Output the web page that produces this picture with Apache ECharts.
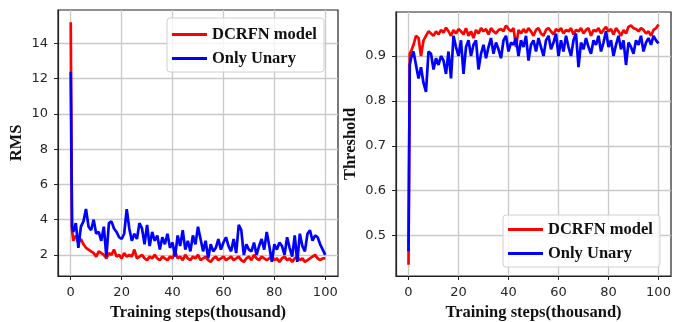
<!DOCTYPE html>
<html>
<head>
<meta charset="utf-8">
<script src="https://cdn.jsdelivr.net/npm/echarts@6/dist/echarts.min.js"></script>
<style>html,body{margin:0;padding:0;background:#fff}#c{width:676px;height:322px}</style>
</head>
<body>
<div id="c"></div>
<script>
const steps = [0, 0.5,
 1,2,3,4,5,6,7,8,9,10,
 11,12,13,14,15,16,17,18,19,20,
 21,22,23,24,25,26,27,28,29,30,
 31,32,33,34,35,36,37,38,39,40,
 41,42,43,44,45,46,47,48,49,50,
 51,52,53,54,55,56,57,58,59,60,
 61,62,63,64,65,66,67,68,69,70,
 71,72,73,74,75,76,77,78,79,80,
 81,82,83,84,85,86,87,88,89,90,
 91,92,93,94,95,96,97,98,99,100];

const rmsDCRFN = [15.2, 3.4,
 2.8,3.1,2.7,2.9,2.6,2.4,2.3,2.2,2.1,1.9,
 2.2,2.1,2.0,1.8,2.1,2.0,2.3,1.9,2.0,1.8,
 2.1,1.9,2.0,1.9,2.3,1.8,1.9,2.0,1.8,1.7,
 1.9,1.8,2.0,1.8,1.7,1.9,1.8,1.7,1.9,1.8,
 2.2,1.8,1.9,1.7,2.0,1.8,1.7,1.9,1.8,2.0,
 1.7,1.8,1.9,1.7,1.6,1.8,1.9,1.7,1.8,1.9,
 1.7,1.8,1.9,1.7,1.8,1.9,1.7,1.6,1.8,1.9,
 1.7,2.0,1.8,1.7,1.9,1.8,1.7,1.8,1.9,1.7,
 1.8,1.6,1.8,1.9,1.7,1.8,1.6,1.8,1.9,1.7,
 1.8,1.6,1.7,1.8,1.9,2.0,1.8,1.7,1.8,1.8];

const rmsUnary = [12.4, 3.6,
 3.3,3.8,2.4,3.6,3.9,4.6,3.6,3.4,4.0,3.2,
 3.3,2.8,3.6,1.9,3.8,3.9,3.5,3.3,3.0,2.9,
 3.2,4.6,3.5,2.8,3.2,2.9,3.8,3.5,2.6,3.7,
 2.5,3.3,2.8,3.1,2.3,3.0,2.6,3.2,2.4,2.7,
 1.9,3.1,2.5,3.4,2.3,2.8,2.2,3.1,2.6,3.6,
 2.9,2.2,2.8,1.8,2.6,2.2,2.4,2.9,2.3,2.7,
 3.0,2.5,2.2,2.9,2.1,3.7,3.4,2.0,2.6,2.3,
 2.2,2.7,2.0,2.5,2.9,2.3,3.3,2.5,1.6,2.6,
 2.3,2.7,2.5,2.0,3.0,2.4,1.9,3.1,1.6,3.2,
 2.5,2.2,3.2,3.4,2.8,3.1,3.0,2.6,2.3,2.0];

const thrDCRFN = [0.435, 0.905,
 0.91,0.925,0.945,0.94,0.90,0.935,0.945,0.955,0.95,0.945,
 0.955,0.948,0.958,0.952,0.963,0.955,0.945,0.958,0.95,0.96,
 0.955,0.948,0.962,0.945,0.955,0.94,0.958,0.95,0.962,0.955,
 0.96,0.948,0.962,0.955,0.95,0.958,0.96,0.955,0.968,0.96,
 0.955,0.962,0.92,0.958,0.95,0.96,0.952,0.962,0.955,0.945,
 0.958,0.962,0.95,0.945,0.958,0.962,0.955,0.948,0.96,0.955,
 0.962,0.95,0.958,0.955,0.962,0.948,0.958,0.955,0.962,0.95,
 0.958,0.962,0.945,0.958,0.955,0.962,0.95,0.958,0.965,0.955,
 0.96,0.948,0.962,0.955,0.945,0.958,0.95,0.965,0.968,0.962,
 0.96,0.955,0.962,0.958,0.95,0.955,0.945,0.958,0.962,0.97];

const thrUnary = [0.465, 0.88,
 0.895,0.91,0.88,0.85,0.875,0.84,0.82,0.91,0.905,0.87,
 0.895,0.88,0.9,0.89,0.86,0.91,0.85,0.945,0.92,0.9,
 0.935,0.86,0.92,0.935,0.9,0.925,0.935,0.87,0.905,0.925,
 0.895,0.92,0.94,0.905,0.93,0.915,0.895,0.935,0.945,0.91,
 0.93,0.925,0.94,0.9,0.935,0.92,0.945,0.89,0.925,0.935,
 0.91,0.94,0.92,0.9,0.935,0.945,0.915,0.93,0.95,0.9,
 0.935,0.91,0.945,0.92,0.9,0.935,0.95,0.875,0.93,0.915,
 0.94,0.92,0.905,0.935,0.925,0.945,0.91,0.93,0.955,0.92,
 0.935,0.9,0.925,0.945,0.915,0.935,0.88,0.93,0.92,0.905,
 0.935,0.925,0.945,0.91,0.93,0.94,0.925,0.945,0.935,0.928];

const xTicks = [0, 20, 40, 60, 80, 100];
const rmsTicks = [2, 4, 6, 8, 10, 12, 14];
const thrTicks = [0.5, 0.6, 0.7, 0.8, 0.9];
const seriesNames = ['DCRFN model', 'Only Unary'];
const colors = ['#ff0000', '#0000ff'];

const pair = (ys) => steps.map((x, i) => [x, ys[i]]);

const tickFont = { fontFamily: 'DejaVu Sans', fontSize: 13, color: '#262626' };
const nameFont = { fontFamily: 'Liberation Serif', fontWeight: 'bold', fontSize: 16.5, color: '#111' };

function xAxis(gi) {
  return {
    type: 'value', gridIndex: gi, min: -5, max: 105,
    name: 'Training steps(thousand)', nameLocation: 'middle', nameGap: 26,
    nameTextStyle: nameFont,
    axisLine: { show: true, onZero: false, lineStyle: { color: '#222', width: 1.2 } },
    axisTick: { show: true, length: 4, customValues: xTicks, lineStyle: { color: '#222' } },
    axisLabel: { customValues: xTicks, margin: 10, ...tickFont },
    splitLine: { show: true, lineStyle: { color: '#c9c9c9', width: 1.3 } }
  };
}
function yAxis(gi, min, max, ticks, name, gap, fmt) {
  return {
    type: 'value', gridIndex: gi, min: min, max: max,
    name: name, nameLocation: 'middle', nameGap: gap,
    nameTextStyle: nameFont,
    axisLine: { show: true, onZero: false, lineStyle: { color: '#222', width: 1.2 } },
    axisTick: { show: true, length: 4, customValues: ticks, lineStyle: { color: '#222' } },
    axisLabel: { customValues: ticks, margin: 10, formatter: fmt, ...tickFont },
    splitLine: { show: true, lineStyle: { color: '#c9c9c9', width: 1.3 } }
  };
}
function line(name, gi, ys, color) {
  return {
    type: 'line', name: name, xAxisIndex: gi, yAxisIndex: gi,
    data: pair(ys), showSymbol: false, symbol: 'none',
    lineStyle: { color: color, width: 2.7 }, itemStyle: { color: color },
    animation: false
  };
}
function legend(left, top, gap, pad) {
  return {
    data: seriesNames, orient: 'vertical', left: left, top: top,
    icon: 'rect', itemWidth: 35, itemHeight: 3, itemGap: gap, itemTextGap: 13,
    padding: pad, borderColor: '#d0d0d0', borderWidth: 1, borderRadius: 3,
    backgroundColor: 'rgba(255,255,255,0.8)', selectedMode: false,
    textStyle: { fontFamily: 'Liberation Serif', fontWeight: 'bold', fontSize: 16.5, color: '#111' }
  };
}

const chart = echarts.init(document.getElementById('c'), null, { renderer: 'canvas' });
chart.setOption({
  animation: false,
  grid: [
    { left: 58, top: 10, width: 280, height: 266, show: true, borderColor: '#222', borderWidth: 1.2, backgroundColor: 'transparent', containLabel: false, outerBoundsMode: 'none' },
    { left: 396, top: 12, width: 275, height: 264, show: true, borderColor: '#222', borderWidth: 1.2, backgroundColor: 'transparent', containLabel: false, outerBoundsMode: 'none' }
  ],
  xAxis: [xAxis(0), xAxis(1)],
  yAxis: [
    yAxis(0, 0.8, 15.9, rmsTicks, 'RMS', 33, v => String(v)),
    yAxis(1, 0.41, 0.998, thrTicks, 'Threshold', 37, v => v.toFixed(1))
  ],
  legend: [legend(167, 18, 7, [8, 7, 5, 5]), legend(503, 215, 7, [6, 7, 5, 5])],
  series: [
    line(seriesNames[0], 0, rmsDCRFN, colors[0]),
    line(seriesNames[1], 0, rmsUnary, colors[1]),
    line(seriesNames[0], 1, thrDCRFN, colors[0]),
    line(seriesNames[1], 1, thrUnary, colors[1])
  ]
});
</script>
</body>
</html>
